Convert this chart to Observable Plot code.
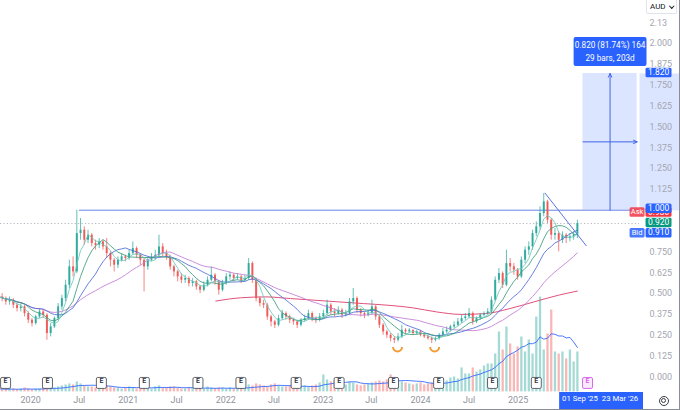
<!DOCTYPE html>
<html>
<head>
<meta charset="utf-8">
<script src="https://cdn.jsdelivr.net/npm/d3@7"></script>
<script src="https://cdn.jsdelivr.net/npm/@observablehq/plot@0.6"></script>
<style>
html,body{margin:0;padding:0;background:#fff;}
#wrap{position:relative;width:680px;height:410px;overflow:hidden;background:#fff;box-sizing:border-box;border-right:1px solid #8a8d95;border-bottom:1px solid #8a8d95;font-family:Roboto,"Noto Sans",sans-serif;}
#wrap > svg{position:absolute;left:0;top:0;}
#aud{position:absolute;left:646px;top:0;width:31px;height:14px;box-sizing:border-box;border:1px solid #e0e3eb;border-top:none;border-radius:0 0 2px 2px;font-size:8px;color:#131722;line-height:13px;padding-left:3px;background:#fff;}
#aud i{position:absolute;left:23px;top:4px;width:2.5px;height:2.5px;border-right:1px solid #131722;border-bottom:1px solid #131722;transform:rotate(45deg);}
#gear{position:absolute;left:659px;top:396px;width:10px;height:10px;box-sizing:border-box;border:1.4px solid #3a3d45;border-radius:50%;}
#gear::after{content:"";position:absolute;left:0.6px;top:0.6px;width:3.4px;height:3.4px;border:1.2px solid #3a3d45;border-radius:50%;}
</style>
</head>
<body>
<div id="wrap"><div id="aud">AUD<i></i></div><div id="gear"></div></div>
<script>
// ---------- data ----------
const startDate = "2019-09-02";   // first 2-week candle
const stepDays = 14;
const firstOpen = 0.49;
const close = [
 .48,.47,.45,.46,.43,.41,.42,.38,.34,.32,
 .36,.39,.37,.26,.30,.35,.42,.47,.55,.66,
 .63,.86,.88,.82,.85,.80,.79,.81,.78,.74,
 .70,.67,.70,.72,.71,.74,.77,.73,.70,.66,
 .70,.72,.73,.78,.74,.72,.66,.63,.60,.58,
 .59,.56,.57,.54,.52,.55,.58,.61,.57,.52,
 .56,.60,.61,.59,.60,.58,.59,.68,.58,.47,
 .44,.43,.36,.33,.31,.35,.38,.36,.34,.33,
 .31,.34,.35,.38,.35,.34,.36,.38,.43,.39,
 .38,.40,.37,.38,.45,.47,.40,.38,.37,.38,
 .42,.36,.31,.27,.25,.23,.22,.24,.28,.27,
 .28,.26,.27,.25,.24,.23,.22,.23,.25,.27,
 .28,.30,.31,.33,.35,.36,.38,.33,.35,.37,
 .38,.39,.46,.58,.62,.55,.68,.66,.64,.60,
 .70,.76,.78,.86,.90,.98,1.05,.94,.85,.86,
 .82,.85,.83,.84,.85,.92];
const high = [
 .51,.50,.48,.48,.47,.44,.44,.43,.39,.35,
 .37,.41,.40,.38,.32,.36,.44,.49,.58,.70,
 .72,1.00,.95,.90,.88,.86,.82,.83,.82,.83,
 .75,.71,.72,.74,.73,.76,.81,.78,.74,.71,
 .72,.74,.76,.85,.80,.76,.73,.67,.64,.62,
 .61,.60,.59,.58,.55,.57,.60,.66,.62,.58,
 .58,.62,.63,.62,.62,.61,.61,.71,.69,.59,
 .48,.46,.44,.37,.34,.37,.40,.39,.37,.35,
 .34,.35,.37,.40,.39,.36,.38,.40,.46,.44,
 .41,.42,.41,.40,.47,.53,.48,.41,.39,.40,
 .46,.43,.37,.32,.28,.26,.24,.26,.31,.29,
 .29,.28,.28,.28,.26,.25,.24,.24,.26,.29,
 .30,.31,.33,.35,.37,.38,.41,.39,.36,.38,
 .39,.41,.48,.60,.65,.63,.76,.71,.68,.65,
 .72,.78,.81,.88,.93,1.02,1.10,1.06,.95,.89,
 .87,.87,.86,.86,.87,.94];
const low = [
 .46,.45,.43,.43,.41,.39,.39,.36,.32,.30,
 .31,.35,.35,.22,.24,.29,.34,.40,.45,.53,
 .60,.62,.82,.79,.80,.78,.76,.77,.76,.71,
 .66,.63,.65,.69,.69,.70,.73,.71,.67,.51,
 .64,.69,.70,.72,.72,.70,.64,.60,.57,.56,
 .56,.54,.54,.52,.50,.51,.54,.57,.55,.49,
 .51,.55,.58,.57,.58,.56,.57,.58,.56,.45,
 .42,.41,.34,.30,.29,.30,.34,.34,.32,.31,
 .29,.30,.33,.34,.33,.32,.33,.35,.37,.37,
 .36,.37,.35,.36,.37,.43,.38,.36,.35,.36,
 .37,.34,.29,.25,.23,.21,.20,.21,.23,.25,
 .26,.25,.25,.24,.23,.22,.20,.21,.22,.24,
 .26,.27,.29,.30,.32,.34,.35,.31,.32,.34,
 .36,.37,.38,.45,.56,.53,.54,.63,.61,.58,
 .59,.68,.73,.76,.84,.88,.96,.92,.82,.82,
 .75,.80,.80,.81,.82,.83];
const volume = [
 3,3,2,3,3,2,3,4,3,2,
 3,3,4,5,4,4,5,6,7,8,
 7,10,8,6,5,5,4,4,5,6,
 5,4,4,3,4,5,4,3,5,6,
 4,3,5,6,4,4,5,5,4,3,
 3,4,4,3,4,3,5,4,3,4,
 4,3,4,3,3,4,6,7,6,8,
 7,6,5,7,8,6,5,5,6,5,
 4,5,6,5,6,7,9,17,12,10,
 11,9,8,7,10,9,7,6,7,8,
 9,10,11,10,12,17,14,12,10,9,
 8,7,8,9,7,8,9,8,10,12,
 11,14,15,13,24,18,18,24,20,22,
 26,28,28,38,60,42,65,48,38,45,
 55,40,52,38,75,95,42,58,82,40,
 38,40,33,42,30,40];
const longMADates = ["2021-11-25","2022-03-01","2022-06-01","2022-09-01","2022-12-01","2023-03-01","2023-06-01","2023-09-01","2023-12-01","2024-03-01","2024-06-01","2024-09-01","2024-12-01","2025-03-01","2025-06-01","2025-08-11"];
const longMAValues = [0.455,0.475,0.48,0.47,0.46,0.45,0.44,0.43,0.415,0.39,0.375,0.38,0.41,0.45,0.49,0.515];
const earningsDates = ["2019-09-29","2020-03-04","2020-09-22","2021-03-02","2021-09-19","2022-02-27","2022-09-22","2023-03-02","2023-09-22","2024-03-09","2024-09-27","2025-03-10","2025-09-18"];
const upcomingEarnings = "2025-09-18";
const patternDates = ["2023-10-07","2024-02-23"];
const patternPrice = 0.18;
// visible price-scale labels (0.875 and 1.000 sit under the Bid / 1.000 tags)
const yTicks = [0,0.125,0.25,0.375,0.5,0.625,0.75,1.125,1.25,1.375,1.5,1.625,1.75,1.875,2,2.125];
const xTicks = ["2020-01-01","2020-07-01","2021-01-01","2021-07-01","2022-01-01","2022-07-01","2023-01-01","2023-07-01","2024-01-01","2024-07-01","2025-01-01"];
const resistance = {price: 1.0, from: "2020-07-02"};
const trend = {from: "2025-04-11", fromPrice: 1.104, to: "2025-09-14", toPrice: 0.785};
const measure = {start: "2025-09-01", end: "2026-03-23", from: 1.0, to: 1.82,
  label: "0.820 (81.74%) 164", sub: "29 bars, 203d", startLabel: "01 Sep '25", endLabel: "23 Mar '26"};
const quote = {ask: 0.93, last: 0.92, bid: 0.91};
// moving-average windows (in 2-week bars) and colours
const maWindows = [26, 14, 8, 4];
const maColors = ["#c27ad6", "#4d6bd8", "#3a9c7c", "#6cc7ba"];

// ---------- tables ----------
const t0 = new Date(startDate);
const bars = close.map((c, i) => ({
  date: d3.utcDay.offset(t0, stepDays * i),
  open: i ? close[i - 1] : firstOpen,
  close: c, high: high[i], low: low[i], volume: volume[i]
}));
const longMA = longMADates.map((d, i) => ({date: new Date(d), value: longMAValues[i]}));
const earnings = earningsDates.map(d => ({date: new Date(d), upcoming: d === upcomingEarnings}));
const patterns = patternDates.map(d => ({date: new Date(d), price: patternPrice}));
const m = {...measure, s: new Date(measure.start), e: new Date(measure.end)};
m.mid = new Date((+m.s + +m.e) / 2);
m.midPrice = (m.from + m.to) / 2;

// ---------- layout ----------
const W = 680, H = 410, MR = 40, MB = 18;
const xDomain = [new Date("2019-09-10"), new Date("2026-04-01")];
const yDomain = [-0.09, 2.258];
const UP = "#26a69a", DOWN = "#ef5350", BLUE = "#2962ff";
const font = "Roboto, 'Noto Sans', sans-serif";
const upDown = d => d.close >= d.open ? UP : DOWN;

function roundRect(w, h, r) {
  return {draw(ctx) {
    const x0 = -w / 2, y0 = -h / 2, x1 = w / 2, y1 = h / 2;
    ctx.moveTo(x0 + r, y0);
    ctx.arcTo(x1, y0, x1, y1, r);
    ctx.arcTo(x1, y1, x0, y1, r);
    ctx.arcTo(x0, y1, x0, y0, r);
    ctx.arcTo(x0, y0, x1, y0, r);
    ctx.closePath();
  }};
}
const arcSymbol = {draw(ctx) { ctx.moveTo(-4.5, 0); ctx.arc(0, 0, 4.5, Math.PI, 0, true); }};

const yScale = Plot.scale({y: {domain: yDomain, range: [H - MB, 0]}});
const bandH = yScale.apply(m.from) - yScale.apply(m.to);

// ---------- volume pane ----------
const volPlot = Plot.plot({
  width: W, height: H, marginLeft: 0, marginRight: MR, marginBottom: MB, marginTop: 292,
  style: {background: "transparent", fontFamily: font},
  x: {type: "utc", domain: xDomain, axis: null},
  y: {domain: [0, 100], axis: null},
  color: {type: "identity"},
  marks: [
    Plot.ruleX(bars, {x: "date", y1: 0, y2: "volume", stroke: upDown, strokeOpacity: 0.42, strokeWidth: 2.3}),
    Plot.lineY(bars, Plot.windowY({k: 10, anchor: "end", reduce: "mean"}, {x: "date", y: "volume", stroke: BLUE, strokeWidth: 1, strokeOpacity: 0.85}))
  ]
});

// ---------- price pane ----------
const tagStyle = {
  ask: {fill: "#f23645", dy: -10}, top: {fill: BLUE, dy: -1}, base: {fill: BLUE, dy: -2},
  last: {fill: "#089981", dy: -1}, bid: {fill: BLUE, dy: 7.5}
};
const tags = [
  {kind: "ask", price: quote.ask}, {kind: "top", price: m.to}, {kind: "base", price: m.from},
  {kind: "last", price: quote.last}, {kind: "bid", price: quote.bid}
];
const sideTags = [{kind: "ask", price: quote.ask, text: "Ask"}, {kind: "bid", price: quote.bid, text: "Bid"}];

const pricePlot = Plot.plot({
  width: W, height: H, marginLeft: 0, marginRight: MR, marginBottom: MB, marginTop: 0,
  style: {background: "transparent", fontFamily: font, overflow: "visible"},
  x: {type: "utc", domain: xDomain},
  y: {domain: yDomain},
  color: {type: "identity"},
  marks: [
    // measurement box and its price-scale band
    Plot.rect([m], {x1: "s", x2: "e", y1: "from", y2: "to", fill: BLUE, fillOpacity: 0.17}),
    Plot.dot([m], {y: "midPrice", frameAnchor: "right", dx: 20, symbol: roundRect(40, bandH, 0), fill: BLUE, fillOpacity: 0.17, stroke: "none"}),
    // last price dotted line
    Plot.ruleY([quote], {y: "last", stroke: "#b2b5be", strokeDasharray: "1.2,2.2", strokeWidth: 1}),
    // horizontal resistance
    Plot.ruleY([resistance], {y: "price", x1: d => new Date(d.from), x2: () => xDomain[1], stroke: "#6a82e6", strokeWidth: 1}),
    // long moving average
    Plot.line(longMA, {x: "date", y: "value", stroke: "#e0507a", strokeWidth: 1, curve: "monotone-x"}),
    // candles
    Plot.ruleX(bars, {x: "date", y1: "low", y2: "high", stroke: upDown, strokeWidth: 0.8, strokeOpacity: 0.9}),
    Plot.ruleX(bars, {x: "date", y1: "open", y2: "close", stroke: upDown, strokeWidth: 2, strokeOpacity: 0.9}),
    // moving averages of close
    ...maWindows.map((k, j) => Plot.lineY(bars, Plot.windowY({k, anchor: "end", reduce: "mean"},
      {x: "date", y: "close", stroke: maColors[j], strokeWidth: 0.85}))),
    // trend line
    Plot.link([trend], {x1: d => new Date(d.from), y1: "fromPrice", x2: d => new Date(d.to), y2: "toPrice", stroke: "#5b73e0", strokeWidth: 1}),
    // pattern arcs
    Plot.dot(patterns, {x: "date", y: "price", symbol: arcSymbol, stroke: "#f39c32", strokeWidth: 2, fill: "none"}),
    // measurement arrows
    Plot.arrow([m], {x1: "mid", x2: "mid", y1: "from", y2: "to", stroke: "#3f63e8", strokeWidth: 1, headLength: 6, headAngle: 50}),
    Plot.arrow([m], {x1: "s", x2: "e", y1: "midPrice", y2: "midPrice", stroke: "#3f63e8", strokeWidth: 1, headLength: 6, headAngle: 50}),
    // measurement label
    Plot.dot([m], {x: "mid", y: "to", dy: -22, symbol: roundRect(73, 29, 2), fill: BLUE, stroke: "none"}),
    Plot.text([m], {x: "mid", y: "to", dy: -28, text: "label", fill: "white", fontSize: 8.2}),
    Plot.text([m], {x: "mid", y: "to", dy: -15, text: "sub", fill: "white", fontSize: 8.2}),
    // earnings markers
    Plot.dot(earnings, {x: "date", frameAnchor: "bottom", dy: -9, symbol: roundRect(10, 11, 1.5),
      fill: d => d.upcoming ? "#fbeafd" : "white", stroke: d => d.upcoming ? "#d05ce3" : "#50535e", strokeWidth: 0.9}),
    Plot.text(earnings, {x: "date", frameAnchor: "bottom", dy: -9, text: () => "E", fontSize: 7, fontWeight: 600,
      fill: d => d.upcoming ? "#d05ce3" : "#2a2e39"}),
    // axes
    Plot.axisY(yTicks, {anchor: "right", tickSize: 0, tickPadding: 10, label: null, fontSize: 9,
      tickFormat: d => d.toFixed(d > 2.1 ? 2 : 3), color: "#a3a6af", fill: "#a3a6af"}),
    Plot.axisX(xTicks.map(d => new Date(d)), {anchor: "bottom", tickSize: 0, tickPadding: 5, label: null, fontSize: 9,
      tickFormat: d => d.getUTCMonth() === 0 ? String(d.getUTCFullYear()) : "Jul", color: "#8f929b", fill: "#8f929b"}),
    // price tags on the price scale
    ...tags.flatMap(t => {
      const s = tagStyle[t.kind];
      return [
        Plot.dot([t], {y: "price", frameAnchor: "right", dx: 19, dy: s.dy, symbol: roundRect(26, 9.5, 1.5), fill: s.fill, stroke: "none"}),
        Plot.text([t], {y: "price", frameAnchor: "right", dx: 19, dy: s.dy, text: d => d.price.toFixed(3), textAnchor: "middle", fill: "white", fontSize: 8.5})
      ];
    }),
    ...sideTags.flatMap(t => {
      const s = tagStyle[t.kind];
      return [
        Plot.dot([t], {y: "price", frameAnchor: "right", dx: -2.5, dy: s.dy, symbol: roundRect(15, 9.5, 1.5), fill: s.fill, fillOpacity: 0.85, stroke: "none"}),
        Plot.text([t], {y: "price", frameAnchor: "right", dx: -2.5, dy: s.dy, text: "text", textAnchor: "middle", fill: "white", fontSize: 7.5})
      ];
    }),
    // date range box on the time scale
    Plot.dot([m], {x: "mid", frameAnchor: "bottom", dy: 9, dx: -9, symbol: roundRect(84, 18, 0), fill: BLUE, stroke: "none"}),
    Plot.text([m], {x: "s", frameAnchor: "bottom", dy: 9, dx: -21, text: "startLabel", textAnchor: "start", fill: "white", fontSize: 7.8}),
    Plot.text([m], {x: "e", frameAnchor: "bottom", dy: 9, dx: 1, text: "endLabel", textAnchor: "end", fill: "white", fontSize: 7.8})
  ]
});

const wrap = document.getElementById("wrap");
wrap.insertBefore(pricePlot, wrap.firstChild);
wrap.insertBefore(volPlot, wrap.firstChild);
</script>
</body>
</html>
